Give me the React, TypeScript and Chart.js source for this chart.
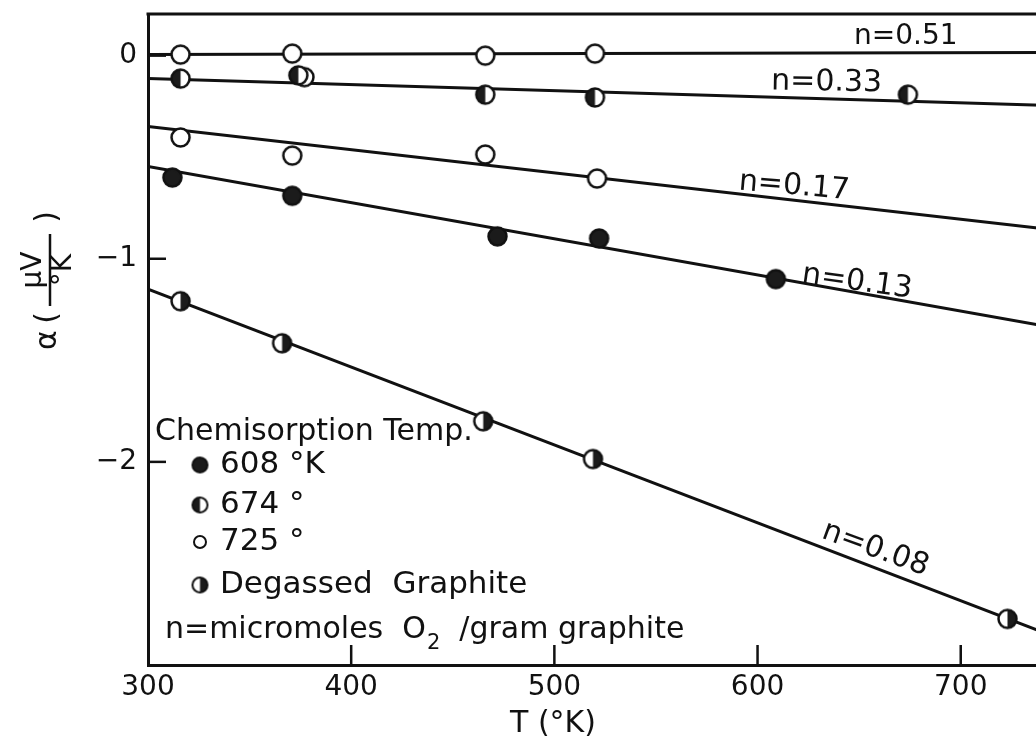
import React, { useEffect, useRef } from "react";
import { Chart, registerables } from "chart.js";

Chart.register(...registerables);

// ---- axis ticks ----
const xTicks = [300, 400, 500, 600, 700];
const yTicks = [0, -1, -2];
const yTickLabels = ["0", "\u22121", "\u22122"];

// ---- measured points (T in K, alpha in uV/K) ----
// 608 K chemisorption (filled), n = 0.13
const T608 = [312, 371, 472, 522, 609];
const A608 = [-0.6, -0.69, -0.89, -0.9, -1.1];
// 674 K chemisorption (left half filled), n = 0.33
const T674 = [316, 374, 466, 520, 674];
const A674 = [-0.113, -0.097, -0.192, -0.206, -0.192];
// open circle overlapping the 674 K point near 375 K
const T725c = [377];
const A725c = [-0.106];
// 725 K chemisorption (open), n = 0.51
const T725a = [316, 371, 466, 520];
const A725a = [0.005, 0.01, 0.0, 0.01];
// 725 K chemisorption (open), n = 0.17
const T725b = [316, 371, 466, 521];
const A725b = [-0.403, -0.492, -0.487, -0.605];
// Degassed graphite (right half filled), n = 0.08
const Tdeg = [316, 366, 465, 519, 723];
const Adeg = [-1.209, -1.416, -1.8, -1.986, -2.773];

// ---- fitted straight lines ----
const fitT = [300, 740];
const fit051 = [0.005, 0.015];
const fit033 = [-0.113, -0.244];
const fit017 = [-0.349, -0.851];
const fit013 = [-0.546, -1.329];
const fit008 = [-1.15, -2.837];

// ---- line annotations ----
const lineLabels = ["n=0.51", "n=0.33", "n=0.17", "n=0.13", "n=0.08"];
const labelT = [673, 634, 618, 649, 658];
const labelA = [0.093, -0.133, -0.644, -1.116, -2.43];
const labelAngle = [0, 1, 5, 8, 20];

// ---- legend ----
const legendTitle = "Chemisorption Temp.";
const legendItems = ["608 \u00b0K", "674 \u00b0", "725 \u00b0", "Degassed  Graphite"];

const FONT = '"DejaVu Sans", "Liberation Sans", sans-serif';
const INK = "#111";

function pts(xs: number[], ys: number[]) {
  return xs.map((x, i) => ({ x, y: ys[i] }));
}

type Kind = "filled" | "open" | "halfL" | "halfR";

function makeMarker(kind: Kind, r: number, lw: number) {
  const size = Math.ceil(2 * r + lw + 2);
  const c = document.createElement("canvas");
  c.width = size;
  c.height = size;
  const g = c.getContext("2d")!;
  const cx = size / 2;
  g.beginPath();
  g.arc(cx, cx, r, 0, Math.PI * 2);
  g.fillStyle = "#fff";
  g.fill();
  g.fillStyle = "#1b1b1b";
  if (kind === "filled") {
    g.fill();
  } else if (kind === "halfL") {
    g.beginPath();
    g.arc(cx, cx, r, Math.PI / 2, (Math.PI * 3) / 2);
    g.closePath();
    g.fill();
  } else if (kind === "halfR") {
    g.beginPath();
    g.arc(cx, cx, r, -Math.PI / 2, Math.PI / 2);
    g.closePath();
    g.fill();
  }
  g.beginPath();
  g.arc(cx, cx, r, 0, Math.PI * 2);
  g.lineWidth = lw;
  g.strokeStyle = INK;
  g.stroke();
  return c;
}

export default function App() {
  const ref = useRef<HTMLCanvasElement | null>(null);

  useEffect(() => {
    const canvas = ref.current;
    if (!canvas) return;

    const mFilled = makeMarker("filled", 9, 2.5);
    const mOpen = makeMarker("open", 9, 2.5);
    const mHalfL = makeMarker("halfL", 9, 2.5);
    const mHalfR = makeMarker("halfR", 9, 2.5);
    const legendMarkers = [
      makeMarker("filled", 7.5, 2),
      makeMarker("halfL", 7.5, 2),
      makeMarker("open", 6, 2),
      makeMarker("halfR", 7.5, 2),
    ];

    const pointSet = (data: any[], style: HTMLCanvasElement) => ({
      data,
      showLine: false,
      pointStyle: style,
      pointRadius: 9,
      order: 0,
    });
    const lineSet = (ys: number[]) => ({
      data: pts(fitT, ys),
      showLine: true,
      borderColor: INK,
      borderWidth: 3,
      pointRadius: 0,
      order: 1,
    });

    const overlay = {
      id: "overlay",
      afterDraw(chart: any) {
        const ctx = chart.ctx as CanvasRenderingContext2D;
        const { left, right, top, bottom } = chart.chartArea;
        const xs = chart.scales.x;
        const ys = chart.scales.y;
        ctx.save();
        ctx.strokeStyle = INK;
        ctx.fillStyle = INK;
        // top frame line
        ctx.lineWidth = 3;
        ctx.beginPath();
        ctx.moveTo(left - 1.5, top);
        ctx.lineTo(right, top);
        ctx.stroke();
        // inward ticks
        ctx.lineWidth = 2.5;
        xTicks.slice(1).forEach((v) => {
          const px = xs.getPixelForValue(v);
          ctx.beginPath();
          ctx.moveTo(px, bottom);
          ctx.lineTo(px, bottom - 20);
          ctx.stroke();
        });
        yTicks.forEach((v) => {
          const py = ys.getPixelForValue(v);
          ctx.beginPath();
          ctx.moveTo(left, py);
          ctx.lineTo(left + 18, py);
          ctx.stroke();
        });

        // line labels
        ctx.textAlign = "center";
        ctx.textBaseline = "middle";
        lineLabels.forEach((t, i) => {
          const px = xs.getPixelForValue(labelT[i]);
          const py = ys.getPixelForValue(labelA[i]);
          ctx.save();
          ctx.translate(px, py);
          ctx.rotate((labelAngle[i] * Math.PI) / 180);
          ctx.font = `${i === 0 ? 28 : 30}px ${FONT}`;
          ctx.fillText(t, 0, 0);
          ctx.restore();
        });

        // legend
        ctx.textAlign = "left";
        ctx.font = `30px ${FONT}`;
        ctx.fillText(legendTitle, 155, 432);
        ctx.font = `31px ${FONT}`;
        const rows = [465, 505, 542, 585];
        legendItems.forEach((t, i) => {
          const m = legendMarkers[i];
          ctx.drawImage(m, 200 - m.width / 2, rows[i] - m.height / 2);
          ctx.fillText(t, 220, rows[i]);
        });
        ctx.font = `30px ${FONT}`;
        const s1 = "n=micromoles  O";
        ctx.fillText(s1, 165, 630);
        let cx = 165 + ctx.measureText(s1).width;
        ctx.font = `21px ${FONT}`;
        ctx.fillText("2", cx + 1, 644);
        cx += ctx.measureText("2").width + 1;
        ctx.font = `30px ${FONT}`;
        ctx.fillText("  /gram graphite", cx, 630);

        // x axis title
        ctx.textAlign = "center";
        ctx.fillText("T (\u00b0K)", 553, 724);

        // y axis title (rotated)
        ctx.save();
        ctx.translate(48, 0);
        ctx.rotate(-Math.PI / 2);
        ctx.textAlign = "center";
        ctx.textBaseline = "middle";
        ctx.font = `30px ${FONT}`;
        ctx.fillText("\u03b1", -340, 0);
        ctx.fillText("(", -318, 0);
        ctx.fillText(")", -217, 0);
        ctx.font = `28px ${FONT}`;
        ctx.fillText("\u03bcV", -270, -14);
        ctx.fillText("\u00b0K", -270, 16);
        ctx.lineWidth = 2.5;
        ctx.beginPath();
        ctx.moveTo(-306, 2);
        ctx.lineTo(-234, 2);
        ctx.stroke();
        ctx.restore();

        ctx.restore();
      },
    };

    const chart = new Chart(canvas, {
      type: "scatter",
      data: {
        datasets: [
          pointSet(pts(T725a, A725a), mOpen),
          pointSet(pts(T674, A674), mHalfL),
          pointSet(pts(T725c, A725c), mOpen),
          pointSet(pts(T725b, A725b), mOpen),
          pointSet(pts(T608, A608), mFilled),
          pointSet(pts(Tdeg, Adeg), mHalfR),
          lineSet(fit051),
          lineSet(fit033),
          lineSet(fit017),
          lineSet(fit013),
          lineSet(fit008),
        ] as any,
      },
      options: {
        animation: false,
        responsive: false,
        maintainAspectRatio: false,
        layout: { padding: { top: 14, left: 0, right: 0, bottom: 0 } },
        plugins: { legend: { display: false }, tooltip: { enabled: false } },
        scales: {
          x: {
            type: "linear",
            min: 300,
            max: 740,
            afterBuildTicks: (s: any) => {
              s.ticks = xTicks.map((v) => ({ value: v }));
            },
            afterFit: (s: any) => {
              s.height = 77;
              s.paddingLeft = 0;
              s.paddingRight = 0;
              s.paddingTop = 0;
              s.paddingBottom = 0;
            },
            grid: { display: false, drawTicks: false },
            border: { display: true, width: 3, color: INK },
            ticks: {
              autoSkip: false,
              maxRotation: 0,
              padding: 6,
              color: INK,
              font: { family: FONT, size: 28 },
            },
          },
          y: {
            type: "linear",
            min: -3,
            max: 0.205,
            afterBuildTicks: (s: any) => {
              s.ticks = yTicks.map((v) => ({ value: v }));
            },
            afterFit: (s: any) => {
              s.width = 148;
              s.paddingLeft = 0;
              s.paddingRight = 0;
              s.paddingTop = 0;
              s.paddingBottom = 0;
            },
            grid: { display: false, drawTicks: false },
            border: { display: true, width: 3, color: INK },
            ticks: {
              autoSkip: false,
              padding: 11,
              color: INK,
              font: { family: FONT, size: 28 },
              callback: (v: any) => {
                const i = yTicks.indexOf(Number(v));
                return i >= 0 ? yTickLabels[i] : "";
              },
            },
          },
        },
      } as any,
      plugins: [overlay],
    });

    return () => chart.destroy();
  }, []);

  return (
    <div
      style={{
        position: "fixed",
        left: 0,
        top: 0,
        width: 1036,
        height: 742,
        overflow: "hidden",
        background: "#fff",
      }}
    >
      <canvas ref={ref} width={1052} height={742} style={{ display: "block" }} />
    </div>
  );
}
